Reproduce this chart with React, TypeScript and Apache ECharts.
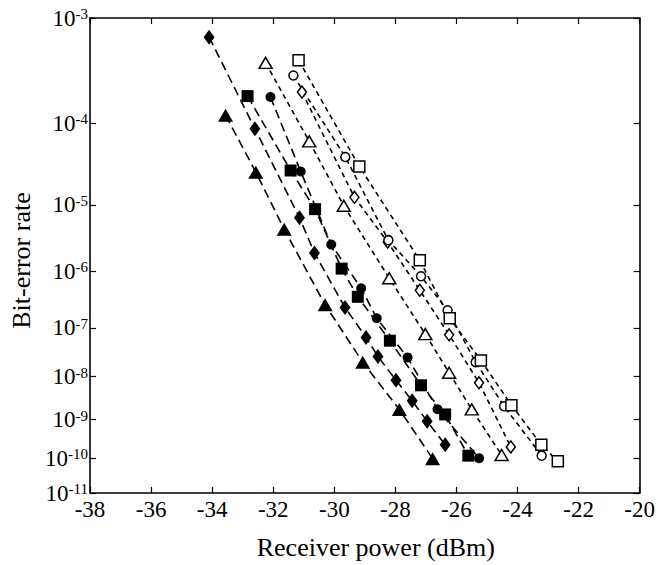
import React, { useEffect, useRef } from "react";
import * as echarts from "echarts";

// Receiver power (dBm), bit-error rate
const filledTriangle = [[-33.56, 1.22e-4], [-32.57, 2.67e-5], [-31.64, 4.5e-6], [-30.30, 2.66e-7], [-29.07, 2.04e-8], [-27.87, 1.77e-9], [-26.78, 9.7e-11]];
const filledDiamond = [[-34.10, 6.9e-4], [-32.60, 8.7e-5], [-31.14, 6.6e-6], [-30.65, 1.97e-6], [-29.65, 2.38e-7], [-28.96, 6.5e-8], [-28.57, 2.68e-8], [-27.98, 8.3e-9], [-27.45, 2.83e-9], [-26.96, 9.1e-10], [-26.37, 2.3e-10]];
const filledSquare = [[-32.84, 1.93e-4], [-31.43, 2.8e-5], [-30.63, 8.7e-6], [-29.76, 1.11e-6], [-29.23, 3.7e-7], [-28.18, 5.6e-8], [-27.16, 6.4e-9], [-26.37, 1.34e-9], [-25.61, 1.17e-10]];
const filledCircle = [[-32.09, 1.89e-4], [-31.10, 2.72e-5], [-30.10, 2.66e-6], [-29.12, 5.2e-7], [-28.61, 1.51e-7], [-27.60, 2.56e-8], [-26.62, 1.79e-9], [-25.26, 1.0e-10]];
const openTriangle = [[-32.25, 4.06e-4], [-30.82, 6.25e-5], [-29.69, 9.7e-6], [-28.20, 7.7e-7], [-27.02, 7.55e-8], [-26.24, 1.21e-8], [-25.50, 1.77e-9], [-24.52, 1.22e-10]];
const openDiamond = [[-31.06, 2.12e-4], [-29.34, 1.26e-5], [-28.25, 2.9e-6], [-27.20, 4.8e-7], [-26.24, 7.3e-8], [-25.26, 7.3e-9], [-24.22, 2.0e-10]];
const openCircle = [[-31.34, 3.08e-4], [-29.64, 4.1e-5], [-28.23, 3.1e-6], [-27.16, 8.3e-7], [-26.29, 2.12e-7], [-25.37, 2.04e-8], [-24.44, 2.1e-9], [-23.21, 1.17e-10]];
const openSquare = [[-31.17, 4.3e-4], [-29.18, 3.14e-5], [-27.20, 1.51e-6], [-26.22, 1.51e-7], [-25.20, 2.22e-8], [-24.20, 2.24e-9], [-23.22, 2.3e-10], [-22.68, 8.2e-11]];

// BER tick exponents (10^-3 ... 10^-11)
const berExponents = [3, 4, 5, 6, 7, 8, 9, 10, 11];
const xMin = -38;
const xMax = -20;
const xInterval = 2;

const FONT = "'Liberation Serif', 'Times New Roman', serif";

// Q-type BER scale: position ∝ log10(-log10(BER))
const berToAxis = (ber: number) => Math.log10(-Math.log10(ber));
const expToAxis = (e: number) => Math.log10(e);

export default function App() {
  const ref = useRef<HTMLDivElement>(null);

  useEffect(() => {
    if (!ref.current) return;
    const chart = echarts.init(ref.current, null, { renderer: "svg" });
    const yTicks = berExponents.map(expToAxis);
    const yMin = expToAxis(berExponents[0]);
    const yMax = expToAxis(berExponents[berExponents.length - 1]);

    const mk = (
      name: string,
      data: number[][],
      symbol: string,
      size: number | number[],
      filled: boolean
    ) => ({
      name,
      type: "line",
      data: data.map((d) => [d[0], berToAxis(d[1])]),
      symbol,
      symbolSize: size,
      showSymbol: true,
      z: 3,
      lineStyle: {
        color: "#000",
        width: 1.6,
        type: filled ? [9, 5] : [5, 4],
      },
      itemStyle: filled
        ? { color: "#000", borderColor: "#000", borderWidth: 0 }
        : { color: "#fff", borderColor: "#000", borderWidth: 1.5 },
    });

    const axisLineStyle = { lineStyle: { color: "#000", width: 1.6 } };

    chart.setOption({
      animation: false,
      backgroundColor: "#fff",
      textStyle: { fontFamily: FONT },
      grid: { left: 90, right: 17, top: 18, bottom: 68, containLabel: false },
      xAxis: [
        {
          type: "value",
          min: xMin,
          max: xMax,
          interval: xInterval,
          position: "bottom",
          axisLine: { show: true, ...axisLineStyle },
          axisTick: { show: true, inside: true, length: 6, lineStyle: { color: "#000", width: 1.2 } },
          axisLabel: { color: "#000", fontFamily: FONT, fontSize: 23, margin: 5 },
          splitLine: { show: false },
          name: "Receiver power (dBm)",
          nameLocation: "middle",
          nameGap: 41,
          nameTextStyle: { color: "#000", fontFamily: FONT, fontSize: 26, padding: [0, 0, 0, 22] },
        },
        {
          type: "value",
          min: xMin,
          max: xMax,
          interval: xInterval,
          position: "top",
          axisLine: { show: true, ...axisLineStyle },
          axisTick: { show: true, inside: true, length: 6, lineStyle: { color: "#000", width: 1.2 } },
          axisLabel: { show: false },
          splitLine: { show: false },
        },
      ],
      yAxis: [
        {
          type: "value",
          inverse: true,
          min: yMin,
          max: yMax,
          position: "left",
          axisLine: { show: true, ...axisLineStyle },
          axisTick: { show: true, inside: true, length: 6, customValues: yTicks, lineStyle: { color: "#000", width: 1.2 } },
          axisLabel: {
            customValues: yTicks,
            color: "#000",
            fontFamily: FONT,
            fontSize: 23,
            margin: 2,
            formatter: (v: number) => `10{s|-${Math.round(Math.pow(10, v))}}`,
            rich: {
              s: { fontFamily: FONT, fontSize: 15, lineHeight: 15, verticalAlign: "top", padding: [0, 0, 7, 0], color: "#000" },
            },
          },
          splitLine: { show: false },
          name: "Bit-error rate",
          nameLocation: "middle",
          nameRotate: 90,
          nameGap: 55,
          nameTextStyle: { color: "#000", fontFamily: FONT, fontSize: 26, padding: [0, 10, 0, 0] },
        },
        {
          type: "value",
          inverse: true,
          min: yMin,
          max: yMax,
          position: "right",
          axisLine: { show: true, ...axisLineStyle },
          axisTick: { show: true, inside: true, length: 6, customValues: yTicks, lineStyle: { color: "#000", width: 1.2 } },
          axisLabel: { show: false },
          splitLine: { show: false },
        },
      ],
      series: [
        mk("filled triangle", filledTriangle, "triangle", [15, 13], true),
        mk("filled diamond", filledDiamond, "diamond", [11, 15], true),
        mk("filled square", filledSquare, "rect", 12, true),
        mk("filled circle", filledCircle, "circle", 10, true),
        mk("open triangle", openTriangle, "triangle", [13, 11], false),
        mk("open diamond", openDiamond, "diamond", [9, 12], false),
        mk("open circle", openCircle, "circle", 9, false),
        mk("open square", openSquare, "rect", 11, false),
      ],
    });
    return () => chart.dispose();
  }, []);

  return (
    <div
      ref={ref}
      style={{ position: "fixed", left: 0, top: 0, width: 658, height: 565, background: "#fff" }}
    />
  );
}
